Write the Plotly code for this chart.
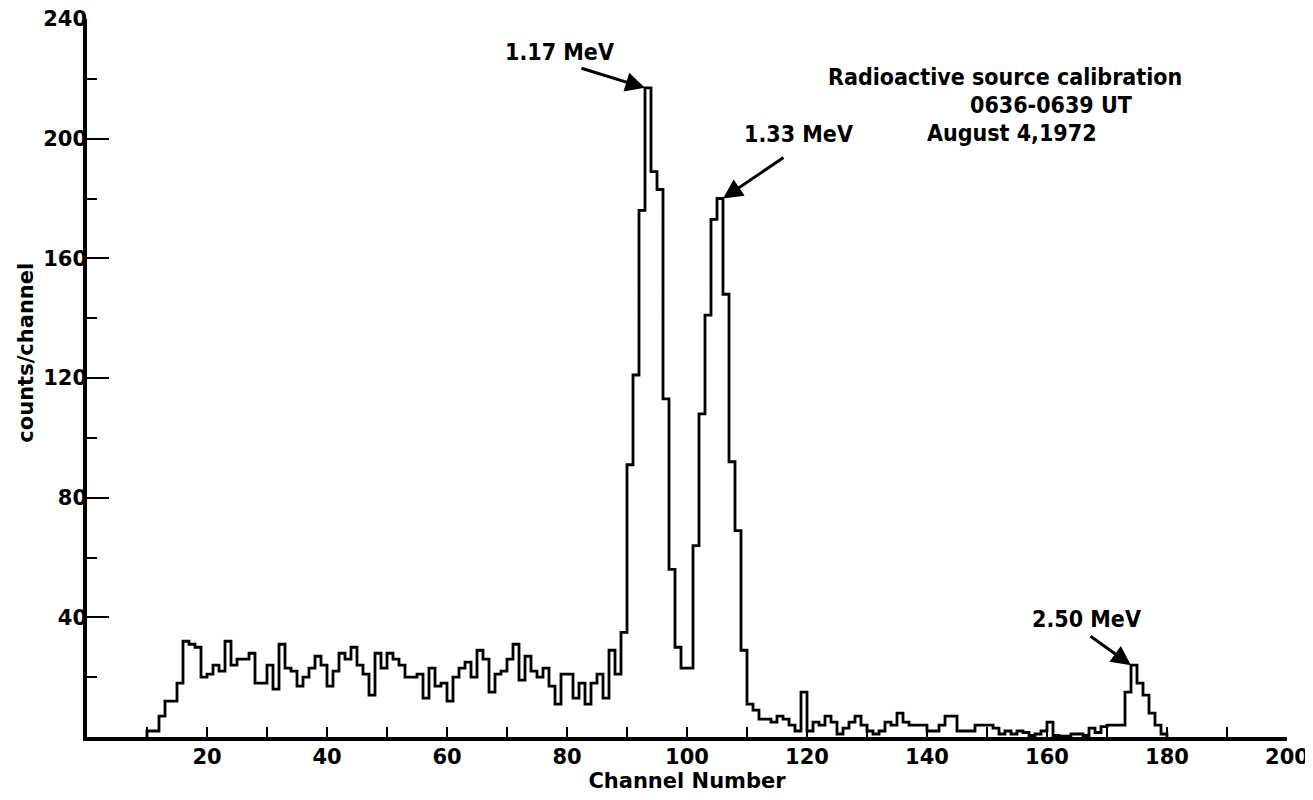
"""
Pulse-height spectrum from the radioactive source calibration run.
"""
import plotly.graph_objects as go

# counts per channel, one value per channel starting at first_channel
first_channel = 10
counts = [
    2, 2, 7, 12, 12, 18, 32, 31, 30, 20,          # 10-19
    21, 24, 22, 32, 24, 26, 26, 28, 18, 18,       # 20-29
    24, 16, 31, 23, 22, 17, 20, 23, 27, 24,       # 30-39
    17, 22, 28, 26, 30, 24, 21, 14, 28, 23,       # 40-49
    28, 26, 24, 20, 20, 21, 13, 23, 17, 18,       # 50-59
    12, 20, 23, 25, 20, 29, 26, 15, 21, 22,       # 60-69
    26, 31, 19, 27, 22, 20, 23, 17, 11, 21,       # 70-79
    21, 13, 18, 11, 18, 21, 13, 29, 21, 35,       # 80-89
    91, 121, 176, 217, 189, 183, 113, 56, 30, 23,  # 90-99
    23, 64, 108, 141, 173, 180, 148, 92, 69, 29,  # 100-109
    11, 9, 6, 6, 5, 7, 6, 4, 2, 15,               # 110-119
    2, 5, 4, 7, 5, 1, 3, 5, 7, 4,                 # 120-129
    2, 1, 2, 5, 4, 8, 5, 4, 4, 4,                 # 130-139
    2, 2, 4, 7, 7, 2, 2, 2, 4, 4,                 # 140-149
    4, 3, 1, 2, 1, 2, 1.5, 0.5, 1, 2,             # 150-159
    5, 0.5, 0.3, 0.3, 1, 1, 0.5, 3, 1.5, 3.5,     # 160-169
    4, 4, 4, 15, 24, 18, 14, 8, 4, 1,             # 170-179
]

# photopeaks marked on the plot
peak_labels = ['1.17 MeV', '1.33 MeV', '2.50 MeV']
peak_channels = [93, 105, 174]

x_ticks = list(range(20, 201, 20))
x_minor = list(range(10, 200, 20))
y_ticks = list(range(40, 241, 40))

info_lines = ['Radioactive source calibration', '0636-0639 UT', 'August 4,1972']

TEXT_FONT = 'DejaVu Sans Condensed, DejaVu Sans'
AXIS_FONT = 'DejaVu Sans'


def histogram_xy(first, values):
    """Turn per-channel counts into a closed step outline."""
    xs = [first]
    ys = [0]
    for i, v in enumerate(values):
        xs.append(first + i)
        ys.append(v)
    end = first + len(values)
    xs += [end, end]
    ys += [values[-1], 0]
    return xs, ys


def create_spectrum_chart() -> go.Figure:
    xs, ys = histogram_xy(first_channel, counts)

    fig = go.Figure()
    fig.add_trace(go.Scatter(
        x=xs, y=ys,
        mode='lines',
        line=dict(color='black', width=2.8, shape='hv'),
        hoverinfo='skip',
        showlegend=False
    ))

    label_font = dict(family=TEXT_FONT, size=23, color='black', weight='bold')

    # arrows point at the top of each peak
    arrow_offsets = [(-65, -20, 0), (62, -42, 1), (-42, -30, 0)]
    text_pos = [
        dict(x=88, y=229, xanchor='right'),
        dict(x=109.3, y=201.5, xanchor='left'),
        dict(x=175.8, y=39.5, xanchor='right'),
    ]
    for label, ch, (ax, ay, edge), tp in zip(peak_labels, peak_channels,
                                              arrow_offsets, text_pos):
        fig.add_annotation(
            x=ch + edge, y=counts[ch - first_channel],
            ax=ax, ay=ay, text='',
            showarrow=True, arrowhead=2, arrowsize=1.3,
            arrowwidth=3, arrowcolor='black'
        )
        fig.add_annotation(
            x=tp['x'], y=tp['y'], text=label, showarrow=False,
            xanchor=tp['xanchor'], yanchor='middle', font=label_font,
            borderpad=0
        )

    # run info block, upper right
    info_pos = [(123.3, 220.5), (147, 211.2), (139.8, 201.9)]
    for line, (x, y) in zip(info_lines, info_pos):
        fig.add_annotation(
            x=x, y=y, text=line, showarrow=False,
            xanchor='left', yanchor='middle', font=label_font,
            borderpad=0
        )

    axis_font = dict(family=AXIS_FONT, size=21, color='black', weight='bold')

    # y title placed by hand, it sits a little above the middle of the axis
    fig.add_annotation(
        xref='paper', yref='paper', x=-0.051, y=0.535,
        text='counts/channel', textangle=-90, showarrow=False,
        xanchor='center', yanchor='middle', font=axis_font
    )

    # the page body adds 8px, so the figure is 8px smaller than the window
    fig.update_layout(
        width=1305,
        height=792,
        margin=dict(l=79, r=26, t=11, b=63),
        plot_bgcolor='white',
        paper_bgcolor='white',
        xaxis=dict(
            range=[0, 200], automargin=False,
            showgrid=False, zeroline=False,
            showline=True, linecolor='black', linewidth=3.5,
            ticks='inside', tickvals=x_ticks, ticklen=10, tickwidth=2,
            tickcolor='black', tickfont=axis_font, ticklabelstandoff=-2,
            ticklabeloverflow='allow',
            minor=dict(tickvals=x_minor, ticks='inside', ticklen=10,
                       tickwidth=2, tickcolor='black'),
            title=dict(text='Channel Number', font=axis_font, standoff=0)
        ),
        yaxis=dict(
            range=[0, 240], automargin=False,
            showgrid=False, zeroline=False,
            showline=True, linecolor='black', linewidth=3.5,
            ticks='inside', tickvals=y_ticks, ticklen=22, tickwidth=2,
            tickcolor='black', tickfont=axis_font, ticklabelstandoff=-8,
            ticklabeloverflow='allow',
            minor=dict(dtick=20, tick0=0, ticks='inside', ticklen=10,
                       tickwidth=2, tickcolor='black')
        )
    )

    return fig


fig = create_spectrum_chart()
fig.write_html("out.html")
